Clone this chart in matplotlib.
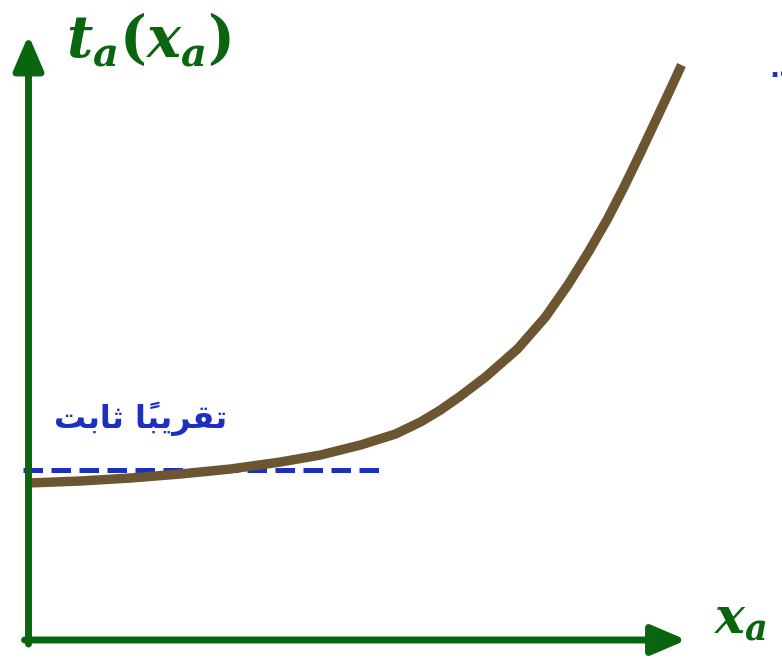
import numpy as np
import matplotlib
matplotlib.use("Agg")
import matplotlib.pyplot as plt

plt.rcParams["mathtext.fontset"] = "custom"
plt.rcParams["mathtext.it"] = "DejaVu Serif:italic:bold"
plt.rcParams["mathtext.rm"] = "DejaVu Serif:bold"

# Curve samples (x_a, t_a) measured from the axis origin
x_vals = [0, 52, 102, 152, 202, 252, 292, 332, 367, 392, 412, 432,
          457, 489, 517, 540, 560, 579, 595, 611, 627, 642, 653]
t_vals = [157, 159, 162, 166, 171, 178, 185, 195, 206, 218, 230, 244,
          263, 291, 323, 356, 388, 421, 452, 485, 519, 551, 575]

# Level of the roughly-constant region
const_level = 170
const_x = [-6, 355]

# Label text
y_label = r"$t_a(x_a)$"
x_label = r"$x_a$"
# "تقريباً ثابت" written in shaped presentation forms, left-to-right visual order
const_label = "\uFE96\uFE91\uFE8E\uFE9B \uFE8E\u064B\uFE92\uFEF3\uFEAE\uFED8\uFE97"

green = "#0a650f"
brown = "#6b5631"
blue = "#1c30bd"

fig = plt.figure(figsize=(7.82, 6.59), dpi=100)
ax = fig.add_axes([0, 0, 1, 1])
ax.set_xlim(-28.5, 782 - 28.5)
ax.set_ylim(640 - 659, 640)
ax.axis("off")

# axes drawn as arrows
arrow = dict(arrowstyle="-|>,head_length=2.1,head_width=0.9",
             color=green, lw=5, shrinkA=0, shrinkB=0)
ax.annotate("", xy=(0, 605), xytext=(0, -4), arrowprops=arrow)
ax.annotate("", xy=(658, 0), xytext=(-4, 0), arrowprops=arrow)

# dashed reference line
ax.plot(const_x, [const_level, const_level], color=blue, lw=3.6,
        linestyle=(0, (3.9, 1.7)), dash_capstyle="butt")

# the curve
ax.plot(x_vals, t_vals, color=brown, lw=6.8, solid_capstyle="butt",
        solid_joinstyle="round")

ax.text(38, 584, y_label, color=green, fontsize=41, va="baseline", ha="left")
ax.text(686, 6, x_label, color=green, fontsize=36, va="baseline", ha="left")
ax.text(26, 212, const_label, color=blue, fontsize=23, fontweight="bold",
        family="DejaVu Sans", va="baseline", ha="left")
ax.text(741, 563, ".\uFEEA", color=blue, fontsize=19, fontweight="bold",
        family="DejaVu Sans", va="baseline", ha="left")

fig.savefig("out.png", dpi=100)
